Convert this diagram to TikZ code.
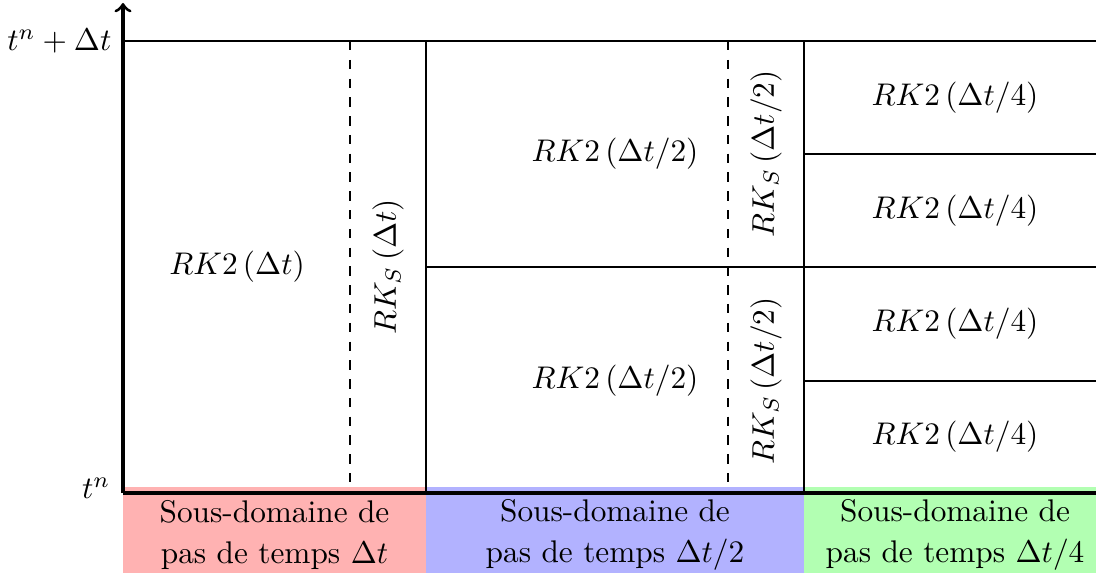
\documentclass[tikz,border=0pt]{standalone}
\usepackage{amsmath}
\begin{document}
\begin{tikzpicture}[x=0.3194pt,y=-0.3194pt,
  grid/.style={line width=0.4pt},
  dash line/.style={dashed, line width=0.4pt},
  axis/.style={line width=1pt},
  band/.style={draw=none},
  bandtext/.style={align=center, inner sep=0pt, font=\normalsize},
  lab/.style={inner sep=0pt}]
\useasboundingbox (0,0) rectangle (1096,573);
% bands
\fill[red!30, band] (123,487) rectangle (426,573);
\fill[blue!30, band] (426,487) rectangle (804,573);
\fill[green!30, band] (804,487) rectangle (1096,573);
\node[bandtext] (b1) at (274.5,535) {Sous-domaine de\\[1pt]pas de temps $\Delta t$};
\node[bandtext] (b2) at (615,535) {Sous-domaine de\\[1pt]pas de temps $\Delta t/2$};
\node[bandtext] (b3) at (955,535) {Sous-domaine de\\[1pt]pas de temps $\Delta t/4$};
% coordinates
\coordinate (o) at (123,493);
\coordinate (top) at (123,41);
\coordinate (tip) at (123,3);
\coordinate (tr) at (1096,41);
\coordinate (br) at (1096,493);
\coordinate (v1t) at (426,41); \coordinate (v1b) at (426,493);
\coordinate (v2t) at (804,41); \coordinate (v2b) at (804,493);
\coordinate (d1t) at (350,41); \coordinate (d1b) at (350,493);
\coordinate (d2t) at (728,41); \coordinate (d2b) at (728,493);
\coordinate (h1l) at (426,267); \coordinate (h1r) at (1096,267);
\coordinate (h2l) at (804,154); \coordinate (h2r) at (1096,154);
\coordinate (h3l) at (804,381); \coordinate (h3r) at (1096,381);
% grid
\draw[grid] (top) -- (tr);
\draw[grid] (v1t) -- (v1b);
\draw[grid] (v2t) -- (v2b);
\draw[dash line] (d1t) -- (d1b);
\draw[dash line] (d2t) -- (d2b);
\draw[grid] (h1l) -- (h1r);
\draw[grid] (h2l) -- (h2r);
\draw[grid] (h3l) -- (h3r);
% axes
\draw[axis, ->] (o) -- (tip);
\draw[axis] (o) -- (br);
% axis labels
\node[lab, anchor=east] (tn) at (111,488) {$t^n$};
\node[lab, anchor=east] (tndt) at (112,41) {$t^n+\Delta t$};
% cell labels
\node[lab] (c1) at (237,267) {$RK2\,(\Delta t)$};
\node[lab, rotate=90] (c2) at (388,267) {$RK_S\,(\Delta t)$};
\node[lab] (c3) at (615,154) {$RK2\,(\Delta t/2)$};
\node[lab] (c4) at (615,381) {$RK2\,(\Delta t/2)$};
\node[lab, rotate=90] (c5) at (766,154) {$RK_S\,(\Delta t/2)$};
\node[lab, rotate=90] (c6) at (766,381) {$RK_S\,(\Delta t/2)$};
\node[lab] (c7) at (955,98) {$RK2\,(\Delta t/4)$};
\node[lab] (c8) at (955,211) {$RK2\,(\Delta t/4)$};
\node[lab] (c9) at (955,324) {$RK2\,(\Delta t/4)$};
\node[lab] (c10) at (955,437) {$RK2\,(\Delta t/4)$};
\end{tikzpicture}
\end{document}
